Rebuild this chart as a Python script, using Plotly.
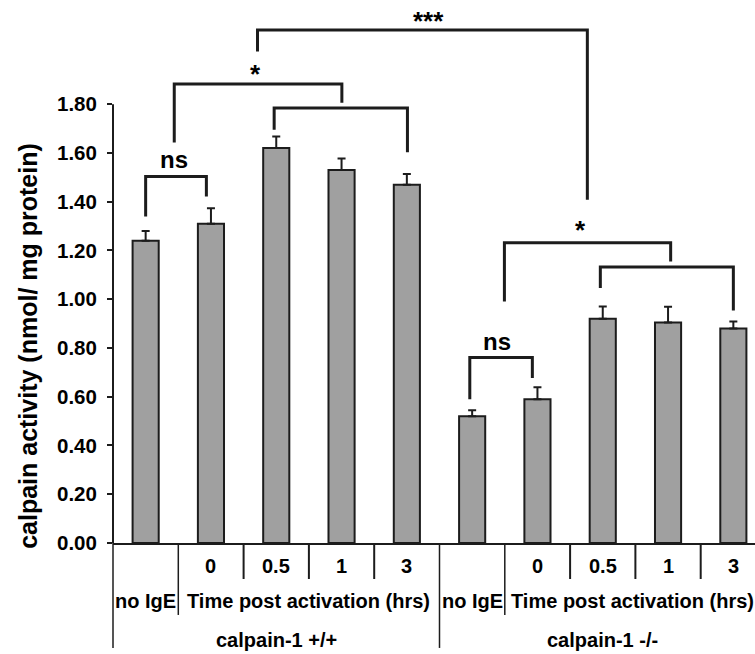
import plotly.graph_objects as go

# ---- data ----
groups = ["calpain-1 +/+", "calpain-1 -/-"]
conditions = ["no IgE", "0", "0.5", "1", "3"]
time_title = "Time post activation (hrs)"
means_wt = [1.24, 1.31, 1.62, 1.53, 1.47]
err_wt = [0.04, 0.063, 0.048, 0.047, 0.044]
means_ko = [0.52, 0.59, 0.92, 0.905, 0.88]
err_ko = [0.025, 0.049, 0.05, 0.064, 0.029]
y_ticks = [0.0, 0.2, 0.4, 0.6, 0.8, 1.0, 1.2, 1.4, 1.6, 1.8]
y_title = "calpain activity (nmol/ mg protein)"

means = means_wt + means_ko
errs = err_wt + err_ko
xpos = list(range(len(means)))

FONT = "Liberation Sans, Arial, sans-serif"
PAGE_W, PAGE_H = 755, 654
W, H = PAGE_W, PAGE_H
AXIS_Y_PAGE = 543.3          # y pixel of value 0
AXIS_X_PAGE = 112.7          # x pixel of the y axis
PX_PER_UNIT = 243.9
PX_PER_CAT = 65.33
ML, MR = AXIS_X_PAGE, 0
MT = 4
MB = PAGE_H - AXIS_Y_PAGE
PLOT_H = H - MT - MB
PLOT_W = W - ML - MR
X0 = -0.5
X1 = X0 + PLOT_W / PX_PER_CAT
Y0 = 0.0
Y1 = PLOT_H / PX_PER_UNIT


def xp(v):
    return (v - X0) / (X1 - X0)


def below(px):
    return -px / PLOT_H


fig = go.Figure()
fig.add_trace(go.Bar(
    x=xpos, y=means, width=0.4,
    marker=dict(color="#a0a0a0", line=dict(color="#1c1c1c", width=2)),
    error_y=dict(type="data", symmetric=False, array=errs,
                 arrayminus=[0] * len(errs), color="#1c1c1c",
                 thickness=2, width=4),
    hoverinfo="skip",
))

shapes = []
# y-axis line (only up to last tick)
shapes.append(dict(type="line", xref="paper", yref="paper", x0=0, x1=0,
                   y0=0, y1=y_ticks[-1] / Y1, line=dict(color="#1c1c1c", width=2)))

# hierarchical category separators below the axis
n = len(conditions)
for g in range(len(groups)):
    base = g * n
    shapes.append(dict(type="line", xref="paper", yref="paper",
                       x0=xp(base - 0.5), x1=xp(base - 0.5), y0=0, y1=below(105),
                       line=dict(color="#1c1c1c", width=1.5)))
    shapes.append(dict(type="line", xref="paper", yref="paper",
                       x0=xp(base + 0.5), x1=xp(base + 0.5), y0=0, y1=below(72),
                       line=dict(color="#1c1c1c", width=1.5)))
    for k in range(2, n):
        shapes.append(dict(type="line", xref="paper", yref="paper",
                           x0=xp(base + k - 0.5), x1=xp(base + k - 0.5), y0=0, y1=below(36),
                           line=dict(color="#1c1c1c", width=2)))

# significance brackets: (x_left, x_right, y_top, y_left_end, y_right_end)
brackets = [
    (0.0, 0.93, 1.503, 1.339, 1.421),
    (1.968, 4.009, 1.784, 1.695, 1.603),
    (0.438, 3.005, 1.883, 1.643, 1.806),
    (1.713, 6.764, 2.105, 2.016, 1.408),
    (4.964, 5.922, 0.761, 0.590, 0.677),
    (6.963, 9.0, 1.132, 1.046, 0.954),
    (5.494, 8.04, 1.232, 0.991, 1.155),
]
for xl, xr, yt, yl, yr in brackets:
    shapes.append(dict(type="path", xref="x", yref="y",
                       path=f"M {xl},{yl} L {xl},{yt} L {xr},{yt} L {xr},{yr}",
                       line=dict(color="#1c1c1c", width=3)))

annotations = []
labels = [("ns", 0.427, 1.575, 24), ("*", 1.678, 1.925, 26), ("***", 4.33, 2.14, 26),
          ("ns", 5.377, 0.826, 24), ("*", 6.652, 1.283, 26)]
for t, x, y, s in labels:
    annotations.append(dict(text=t, x=x, y=y, xref="x", yref="y", showarrow=False,
                            xanchor="center", yanchor="middle",
                            font=dict(family=FONT, size=s, color="black", weight="bold")))

LAB_FONT = dict(family=FONT, size=20, color="black", weight="bold")
for g, gname in enumerate(groups):
    base = g * n
    for k, c in enumerate(conditions):
        row_y = below(58.4) if k == 0 else below(23.4)
        annotations.append(dict(text=c, x=xp(base + k), y=row_y, xref="paper", yref="paper",
                                showarrow=False, xanchor="center", yanchor="middle",
                                font=LAB_FONT))
    tx = base + n / 2 - (0.04 if g == len(groups) - 1 else 0.0)
    annotations.append(dict(text=time_title, x=xp(tx), y=below(58.4),
                            xref="paper", yref="paper", showarrow=False,
                            xanchor="center", yanchor="middle", font=LAB_FONT))
    annotations.append(dict(text=gname, x=xp(base + (n - 1) / 2), y=below(96.7),
                            xref="paper", yref="paper", showarrow=False,
                            xanchor="center", yanchor="middle", font=LAB_FONT))

# y-axis title
annotations.append(dict(text=y_title, x=(27 - AXIS_X_PAGE) / PLOT_W,
                        y=(AXIS_Y_PAGE - 345.7) / PLOT_H,
                        xref="paper", yref="paper", showarrow=False, textangle=-90,
                        xanchor="center", yanchor="middle",
                        font=dict(family=FONT, size=25, color="black", weight="bold")))

fig.update_layout(
    width=W, height=H,
    margin=dict(l=ML, r=MR, t=MT, b=MB, pad=0),
    paper_bgcolor="white", plot_bgcolor="white",
    showlegend=False,
    hovermode=False,
    xaxis=dict(range=[X0, X1], showticklabels=False, ticks="", showgrid=False,
               zeroline=False, showline=True, linecolor="#1c1c1c", linewidth=2),
    yaxis=dict(range=[Y0, Y1], tickvals=y_ticks, tickformat=".2f", ticks="outside",
               ticklen=5, tickwidth=2, tickcolor="#1c1c1c", showgrid=False,
               zeroline=False, showline=False, ticklabelstandoff=6,
               tickfont=dict(family=FONT, size=20.5, color="black", weight="bold")),
    shapes=shapes,
    annotations=annotations,
)

fig.write_html(
    "out.html",
    config={"displayModeBar": False, "staticPlot": True},
    post_script="document.body.style.margin='0';document.body.style.overflow='hidden';"
                "document.documentElement.style.overflow='hidden';",
)
